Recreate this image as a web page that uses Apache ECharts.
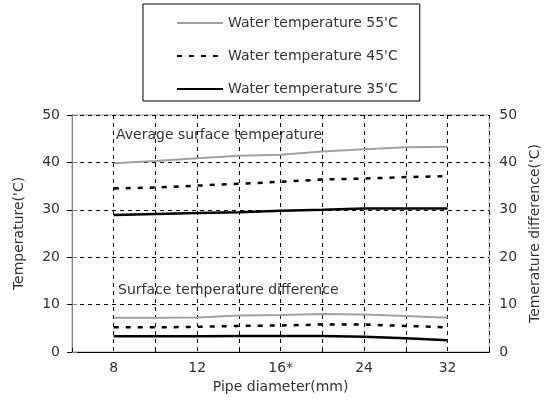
<!DOCTYPE html>
<html>
<head>
<meta charset="utf-8">
<script src="https://cdn.jsdelivr.net/npm/echarts@6/dist/echarts.min.js"></script>
<style>
  html, body { margin: 0; padding: 0; background: #fff; }
  #chart { width: 550px; height: 403px; }
</style>
</head>
<body>
<div id="chart"></div>
<script>
// pipe diameters (labels at odd positions), 9 measuring points
const diameterLabels = ['8', '12', '16*', '24', '32']
const pointPos = [1, 2, 3, 4, 5, 6, 7, 8, 9]

// average surface temperature
const avg55 = [39.8, 40.3, 40.9, 41.4, 41.6, 42.3, 42.8, 43.2, 43.3]
const avg45 = [34.5, 34.7, 35.1, 35.5, 35.9, 36.4, 36.6, 36.9, 37.1]
const avg35 = [28.9, 29.1, 29.3, 29.5, 29.8, 30.0, 30.3, 30.3, 30.3]

// surface temperature difference
const diff55 = [7.2, 7.2, 7.3, 7.7, 7.8, 8.0, 7.9, 7.6, 7.2]
const diff45 = [5.2, 5.2, 5.3, 5.5, 5.6, 5.8, 5.8, 5.5, 5.2]
const diff35 = [3.3, 3.3, 3.3, 3.4, 3.4, 3.4, 3.2, 2.9, 2.5]

const names = ["Water temperature 55'C", "Water temperature 45'C", "Water temperature 35'C"]

const font = 'DejaVu Sans'
const txt = '#333'

const pair = (arr) => arr.map((v, i) => [pointPos[i], v])

const style55 = { color: '#a0a0a0', width: 2 }
const style45 = { color: '#000', width: 2.5, type: [5, 7] }
const style35 = { color: '#000', width: 2.5 }

function line(name, data, ls) {
  return {
    name: name,
    type: 'line',
    data: pair(data),
    showSymbol: false,
    symbol: 'none',
    silent: true,
    itemStyle: { color: ls.color },
    lineStyle: ls
  }
}

const myChart = echarts.init(document.getElementById('chart'))

const option = {
  animation: false,
  textStyle: { fontFamily: font },
  grid: {
    left: 72, right: 55, top: 115, bottom: 51,
    show: true, borderColor: '#a0a0a0', borderWidth: 1
  },
  legend: {
    orient: 'vertical',
    left: 143, top: 4,
    padding: [12, 22, 5, 33],
    itemGap: 19,
    itemWidth: 46,
    itemHeight: 14,
    borderColor: '#000',
    borderWidth: 1,
    data: names,
    itemStyle: { opacity: 0 },
    textStyle: { fontSize: 14, color: txt, fontFamily: font }
  },
  xAxis: [
    {
      type: 'value',
      min: 0, max: 10, interval: 1,
      name: 'Pipe diameter(mm)',
      nameLocation: 'middle',
      nameGap: 25,
      nameTextStyle: { fontSize: 14, color: txt },
      axisLine: { show: false },
      axisTick: { show: false },
      axisLabel: {
        fontSize: 14, color: txt, margin: 9,
        showMinLabel: true, showMaxLabel: true,
        formatter: (v) => (v % 2 === 1 ? diameterLabels[(v - 1) / 2] : '')
      },
      splitLine: { show: true, lineStyle: { color: '#000', type: [4, 4], width: 1 } }
    },
    {
      type: 'value',
      min: 0, max: 10, interval: 2,
      axisLine: { show: true, lineStyle: { color: '#000', width: 1 } },
      axisTick: { show: true, length: 4, lineStyle: { color: '#000' } },
      axisLabel: { show: false },
      splitLine: { show: false }
    }
  ],
  yAxis: [
    {
      type: 'value',
      min: 0, max: 50, interval: 10,
      name: "Temperature('C)",
      nameLocation: 'middle',
      nameGap: 46,
      nameRotate: 90,
      nameTextStyle: { fontSize: 14, color: txt },
      axisLine: { show: true, lineStyle: { color: '#000', width: 1 } },
      axisTick: { show: true, length: 5, lineStyle: { color: '#000' } },
      axisLabel: { fontSize: 14, color: txt, margin: 12 },
      splitLine: { show: true, lineStyle: { color: '#000', type: [4, 4], width: 1 } }
    },
    {
      type: 'value',
      position: 'right',
      min: 0, max: 50, interval: 10,
      name: "Temerature difference('C)",
      nameLocation: 'middle',
      nameGap: 37,
      nameRotate: 90,
      nameTextStyle: { fontSize: 14, color: txt },
      axisLine: { show: true, lineStyle: { color: '#808080', width: 1 } },
      axisTick: { show: true, length: 5, lineStyle: { color: '#808080' } },
      axisLabel: { fontSize: 14, color: txt, margin: 10 },
      splitLine: { show: false }
    }
  ],
  graphic: [
    {
      type: 'text', left: 116, top: 128,
      style: { text: 'Average surface temperature', fontSize: 14, fill: txt, fontFamily: font }
    },
    {
      type: 'text', left: 118, top: 283,
      style: { text: 'Surface temperature difference', fontSize: 14, fill: txt, fontFamily: font }
    }
  ],
  series: [
    line(names[0], avg55, style55),
    line(names[1], avg45, style45),
    line(names[2], avg35, style35),
    line(names[0], diff55, style55),
    line(names[1], diff45, style45),
    line(names[2], diff35, style35)
  ]
}

myChart.setOption(option)
</script>
</body>
</html>
